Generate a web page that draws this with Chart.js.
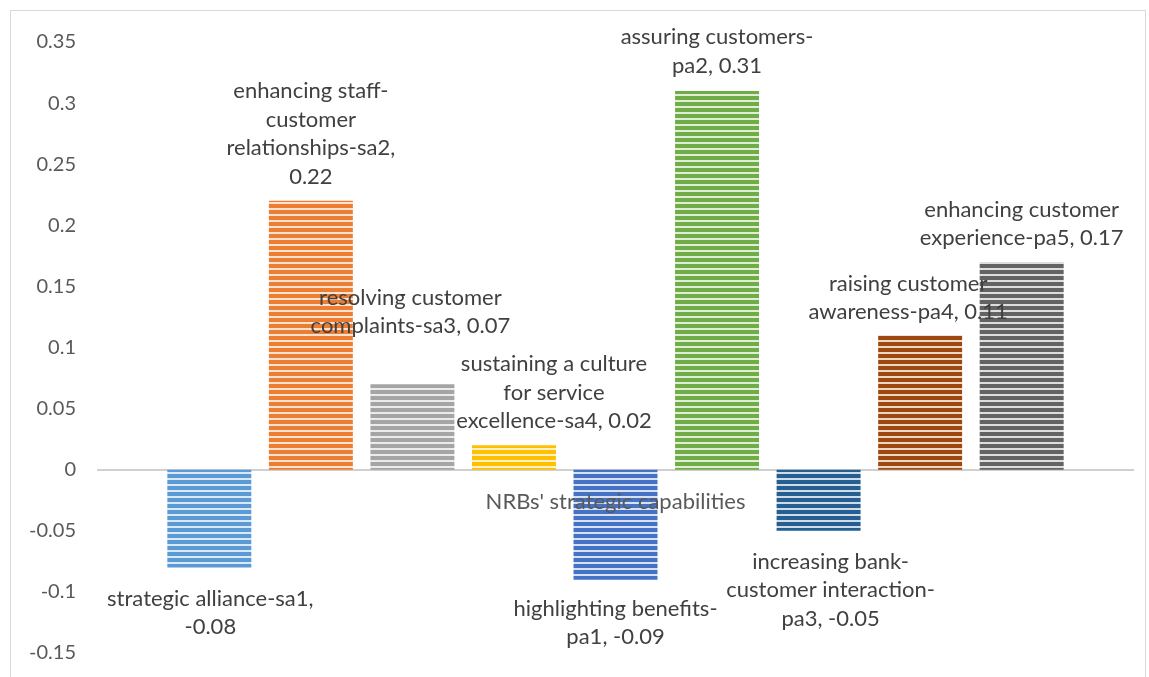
<!DOCTYPE html>
<html>
<head>
<meta charset="utf-8">
<script src="https://cdn.jsdelivr.net/npm/chart.js@4/dist/chart.umd.min.js"></script>
<style>
  html, body { margin: 0; padding: 0; background: #fff; overflow: hidden; }
  #frame { position: absolute; left: 10px; top: 10px; width: 1134px; height: 700px; border: 1px solid #d9d9d9; }
  #wrap { position: absolute; left: 0; top: 0; width: 1149px; height: 677px; }
</style>
</head>
<body>
<div id="frame"></div>
<div id="wrap"><canvas id="chart"></canvas></div>
<script>
// category and series
const categories = ["NRBs' strategic capabilities"];
const seriesNames = [
    "strategic alliance-sa1",
    "enhancing staff-customer relationships-sa2",
    "resolving customer complaints-sa3",
    "sustaining a culture for service excellence-sa4",
    "highlighting benefits-pa1",
    "assuring customers-pa2",
    "increasing bank-customer interaction-pa3",
    "raising customer awareness-pa4",
    "enhancing customer experience-pa5"
];
const seriesValues = [-0.08, 0.22, 0.07, 0.02, -0.09, 0.31, -0.05, 0.11, 0.17];
const seriesColors = ["#5B9BD5", "#ED7D31", "#A5A5A5", "#FFC000", "#4472C4", "#70AD47", "#255E91", "#9E480E", "#636363"];

// data labels as wrapped in the original
const labelLines = [
    ["strategic alliance-sa1,", "-0.08"],
    ["enhancing staff-", "customer", "relationships-sa2,", "0.22"],
    ["resolving customer", "complaints-sa3, 0.07"],
    ["sustaining a culture", "for service", "excellence-sa4, 0.02"],
    ["highlighting benefits-", "pa1, -0.09"],
    ["assuring customers-", "pa2, 0.31"],
    ["increasing bank-", "customer interaction-", "pa3, -0.05"],
    ["raising customer", "awareness-pa4, 0.11"],
    ["enhancing customer", "experience-pa5, 0.17"]
];

const yMin = -0.15, yMax = 0.35, yStep = 0.05;

function lighten(hex, amt) {
    const n = parseInt(hex.slice(1), 16);
    const r = (n >> 16) & 255, g = (n >> 8) & 255, b = n & 255;
    const f = c => Math.round(c + (255 - c) * amt);
    return `rgb(${f(r)}, ${f(g)}, ${f(b)})`;
}

// horizontal stripe fill like the Excel pattern
function stripes(color) {
    const c = document.createElement("canvas");
    c.width = 8;
    c.height = 6;
    const x = c.getContext("2d");
    x.fillStyle = color;
    x.fillRect(0, 0, 8, 4);
    x.fillStyle = lighten(color, 0.78);
    x.fillRect(0, 4, 8, 2);
    return x.createPattern(c, "repeat");
}

const barLabels = {
    id: "barLabels",
    afterDatasetsDraw(chart, args, opts) {
        const ctx = chart.ctx;
        ctx.save();
        ctx.font = opts.font;
        ctx.fillStyle = opts.color;
        ctx.textAlign = "center";
        ctx.textBaseline = "middle";
        chart.data.datasets.forEach((ds, i) => {
            const bar = chart.getDatasetMeta(i).data[0];
            const lines = labelLines[i];
            const [dx, dy] = opts.nudge[i];
            const lh = opts.lineHeight;
            let y0;
            if (ds.data[0] >= 0) {
                y0 = bar.y + dy - (lines.length - 1) * lh;
            } else {
                y0 = bar.y + dy;
            }
            lines.forEach((t, k) => ctx.fillText(t, bar.x + dx, y0 + k * lh));
        });
        ctx.restore();
    }
};

const datasets = seriesNames.map((name, i) => ({
    label: name,
    data: [seriesValues[i]],
    backgroundColor: stripes(seriesColors[i]),
    borderWidth: 0
}));

new Chart(document.getElementById("chart"), {
    type: "bar",
    data: { labels: categories, datasets: datasets },
    options: {
        responsive: true,
        maintainAspectRatio: false,
        animation: false,
        categoryPercentage: 0.883,
        barPercentage: 0.827,
        layout: { padding: { left: 30, right: 16, top: 42, bottom: 24 } },
        plugins: {
            legend: { display: false },
            tooltip: { enabled: false },
            barLabels: {
                font: "22px Lato",
                color: "#404040",
                lineHeight: 28.5,
                nudge: [[1, 31], [0, -24], [-2, -58], [40, -24], [0, 29], [0, -25], [12, 31], [-12, -23], [0, -24]]
            }
        },
        scales: {
            x: {
                position: { y: 0 },
                grid: { display: false, drawTicks: false },
                border: { display: true, color: "#d0d0d0", width: 2 },
                afterFit: s => { s.height = 0; },
                ticks: { z: 1, color: "#595959", padding: 19, font: { family: "Lato", size: 22 } }
            },
            y: {
                min: yMin,
                max: yMax,
                grid: { display: false, drawTicks: true, tickLength: 22 },
                border: { display: false },
                afterFit: s => { s.width = 68; },
                ticks: {
                    stepSize: yStep,
                    padding: 0,
                    color: "#595959",
                    font: { family: "Lato", size: 20 },
                    callback: v => String(parseFloat(v.toFixed(2)))
                }
            }
        }
    },
    plugins: [barLabels]
});
</script>
</body>
</html>
